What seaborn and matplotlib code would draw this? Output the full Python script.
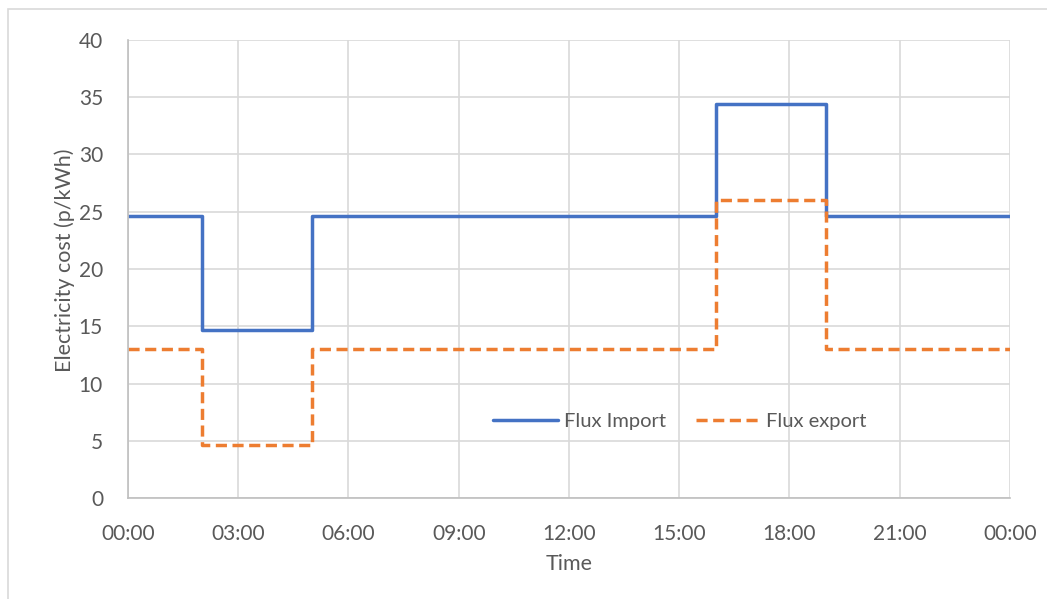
import matplotlib
matplotlib.use("Agg")
import matplotlib.pyplot as plt
import seaborn as sns
import pandas as pd
from matplotlib.patches import Rectangle
from matplotlib.ticker import MultipleLocator, FuncFormatter

# Tariff change points (hours since midnight) and rates in p/kWh
hours = [0, 2, 5, 16, 19, 24]
import_rates = [24.6, 14.7, 24.6, 34.4, 24.6, 24.6]
export_rates = [13.0, 4.6, 13.0, 26.0, 13.0, 13.0]
series_names = ["Flux Import", "Flux export"]
x_tick_labels = ["00:00", "03:00", "06:00", "09:00", "12:00", "15:00", "18:00", "21:00", "00:00"]

sns.set_style("white")
plt.rcParams["font.family"] = ["Lato", "DejaVu Sans"]

text_col = "#595959"
grid_col = "#D9D9D9"
spine_col = "#BFBFBF"
blue = "#4472C4"
orange = "#ED7D31"

df = pd.DataFrame({
    "hour": hours * 2,
    "rate": import_rates + export_rates,
    "tariff": [series_names[0]] * len(hours) + [series_names[1]] * len(hours),
})

fig = plt.figure(figsize=(10.47, 5.99), dpi=100)
ax = fig.add_axes([128 / 1047, 1 - 498 / 599, (1010 - 128) / 1047, (498 - 40) / 599])

# chart frame
fig.patches.append(Rectangle((8 / 1047, -0.1), 1.2, 1 - 9 / 599 + 0.1,
                             transform=fig.transFigure, fill=False,
                             edgecolor="#D9D9D9", linewidth=1.2, zorder=0))

sns.lineplot(data=df, x="hour", y="rate", hue="tariff", style="tariff",
             palette=[blue, orange], dashes=[(1, 0), (3.2, 1.6)],
             drawstyle="steps-post", linewidth=2.5, ax=ax, legend=False)

ax.set_xlim(0, 24)
ax.set_ylim(0, 40)
ax.xaxis.set_major_locator(MultipleLocator(3))
ax.xaxis.set_minor_locator(MultipleLocator(1))
ax.yaxis.set_major_locator(MultipleLocator(5))
ax.xaxis.set_major_formatter(FuncFormatter(lambda v, p: x_tick_labels[int(round(v / 3))] if 0 <= round(v / 3) < len(x_tick_labels) else ""))

ax.grid(True, which="major", color=grid_col, linewidth=1.2)
ax.set_axisbelow(True)
for side in ["top", "right"]:
    ax.spines[side].set_visible(False)
for side in ["left", "bottom"]:
    ax.spines[side].set_color(spine_col)
    ax.spines[side].set_linewidth(1.2)

ax.tick_params(axis="x", which="both", direction="out", colors=spine_col,
               labelcolor=text_col, labelsize=15, pad=14)
ax.tick_params(axis="x", which="major", length=5, width=1.2)
ax.tick_params(axis="x", which="minor", length=5, width=1.2)
ax.tick_params(axis="y", which="both", length=0, labelcolor=text_col, labelsize=15, pad=18)

ax.set_xlabel("Time", color=text_col, fontsize=15.5, labelpad=7)
ax.set_ylabel("Electricity cost (p/kWh)", color=text_col, fontsize=15.5)
ax.yaxis.set_label_coords(-53 / 882, (498 - 260) / 458)

handles = [plt.Line2D([], [], color=blue, linewidth=2.5),
           plt.Line2D([], [], color=orange, linewidth=2.5, linestyle=(0, (3.2, 1.6)))]
leg = ax.legend(handles, series_names, loc="center", bbox_to_anchor=((680 - 128) / 882, (498 - 421) / 458),
                ncol=2, frameon=False, fontsize=14.5, handlelength=3.2, handletextpad=0.3,
                columnspacing=1.5, labelcolor=text_col)

fig.savefig("out.png", dpi=100)
